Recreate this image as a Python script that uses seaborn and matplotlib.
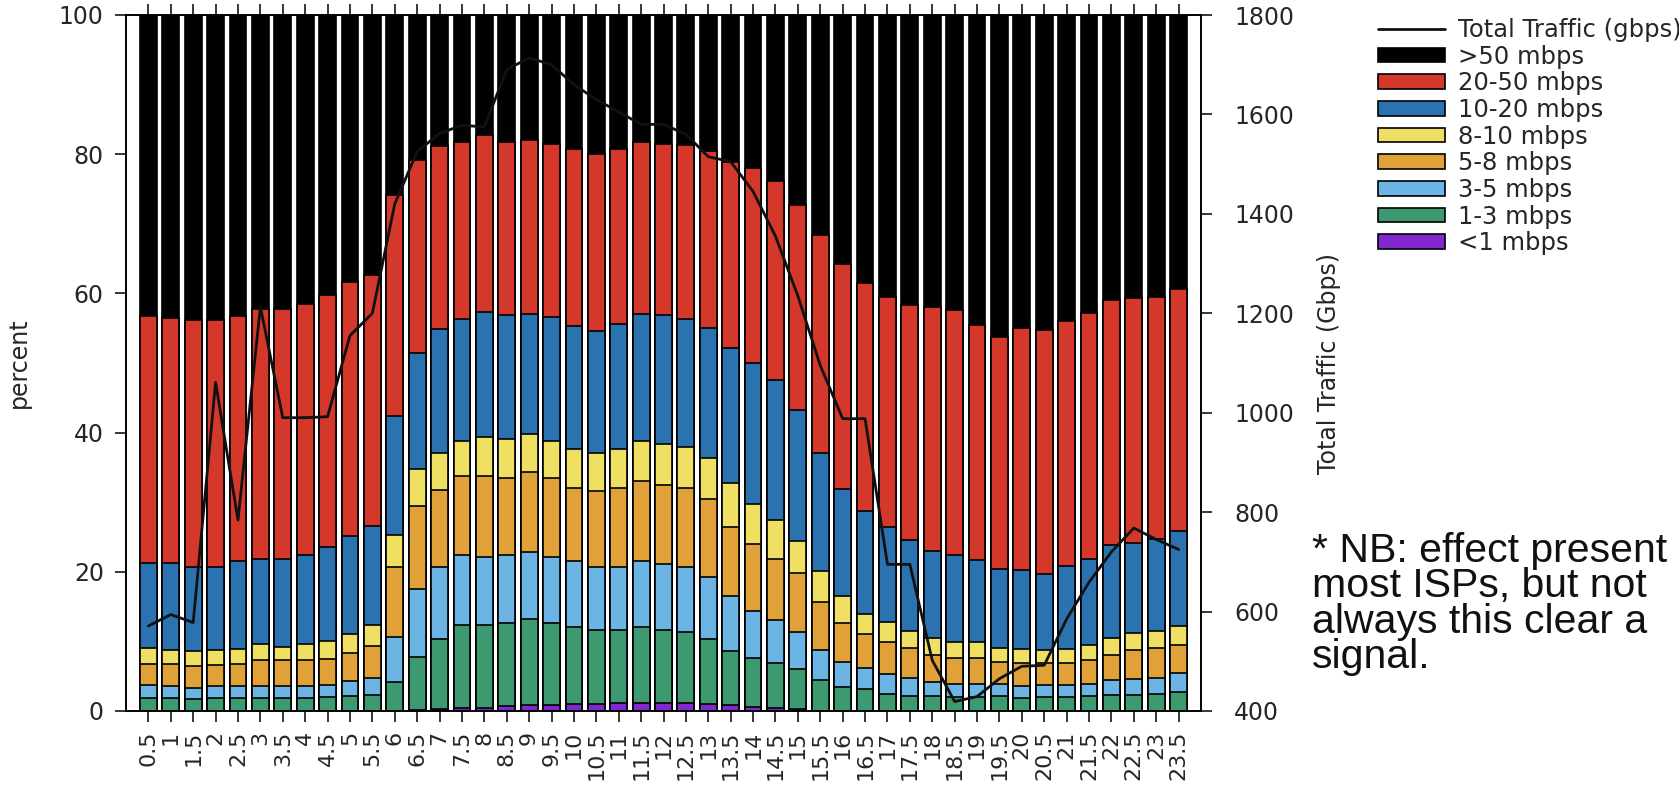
import numpy as np
import matplotlib
matplotlib.use("Agg")
import matplotlib.pyplot as plt
from matplotlib.patches import Patch
from matplotlib.lines import Line2D
import seaborn as sns

# Half-hour buckets of the day
hour_labels = ["0.5", "1", "1.5", "2", "2.5", "3", "3.5", "4", "4.5", "5", "5.5", "6",
               "6.5", "7", "7.5", "8", "8.5", "9", "9.5", "10", "10.5", "11", "11.5", "12",
               "12.5", "13", "13.5", "14", "14.5", "15", "15.5", "16", "16.5", "17", "17.5",
               "18", "18.5", "19", "19.5", "20", "20.5", "21", "21.5", "22", "22.5", "23", "23.5"]

# Cumulative share of streams (percent) at or below each speed threshold
share_all = [100] * 47
share_below_50 = [56.8, 56.4, 56.2, 56.2, 56.8, 57.8, 57.8, 58.5, 59.7, 61.6, 62.6, 74.1,
                  79.2, 81.2, 81.7, 82.8, 81.7, 82.0, 81.5, 80.7, 80.0, 80.7, 81.7, 81.5,
                  81.3, 80.5, 78.9, 78.0, 76.2, 72.7, 68.4, 64.2, 61.5, 59.5, 58.4,
                  58.0, 57.6, 55.4, 53.8, 55.1, 54.7, 56.1, 57.2, 59.1, 59.3, 59.5, 60.7]
share_below_20 = [21.3, 21.3, 20.7, 20.7, 21.5, 21.9, 21.9, 22.4, 23.6, 25.1, 26.6, 42.4,
                  51.5, 54.9, 56.3, 57.3, 56.9, 57.1, 56.6, 55.3, 54.6, 55.6, 57.1, 56.9,
                  56.3, 55.1, 52.1, 50.0, 47.5, 43.2, 37.1, 31.9, 28.7, 26.5, 24.5,
                  23.0, 22.4, 21.7, 20.4, 20.2, 19.7, 20.9, 21.9, 23.9, 24.1, 24.7, 25.8]
share_below_10 = [9.0, 8.8, 8.6, 8.7, 8.9, 9.6, 9.2, 9.6, 10.0, 11.0, 12.4, 25.3,
                  34.7, 37.0, 38.8, 39.3, 39.1, 39.8, 38.8, 37.6, 37.1, 37.6, 38.8, 38.4,
                  38.0, 36.4, 32.7, 29.8, 27.5, 24.4, 20.1, 16.5, 14.0, 12.8, 11.5,
                  10.5, 9.9, 9.9, 9.0, 8.9, 8.8, 8.9, 9.5, 10.5, 11.2, 11.5, 12.2]
share_below_8 = [6.8, 6.7, 6.5, 6.6, 6.7, 7.3, 7.3, 7.3, 7.5, 8.4, 9.4, 20.7,
                 29.4, 31.8, 33.7, 33.7, 33.5, 34.3, 33.5, 32.1, 31.6, 32.1, 33.0, 32.5,
                 32.1, 30.5, 26.5, 24.0, 21.9, 19.8, 15.6, 12.7, 11.0, 9.9, 9.0,
                 8.0, 7.6, 7.6, 7.1, 6.9, 6.9, 6.9, 7.3, 8.1, 8.7, 9.0, 9.5]
share_below_5 = [3.8, 3.6, 3.3, 3.6, 3.6, 3.6, 3.6, 3.6, 3.8, 4.3, 4.8, 10.7,
                 17.6, 20.7, 22.4, 22.1, 22.4, 22.9, 22.1, 21.5, 20.7, 20.7, 21.5, 21.1,
                 20.7, 19.3, 16.5, 14.3, 13.1, 11.4, 8.7, 7.1, 6.2, 5.3, 4.7,
                 4.1, 3.9, 3.9, 3.9, 3.6, 3.8, 3.8, 3.9, 4.5, 4.6, 4.7, 5.4]
share_below_3 = [1.8, 1.8, 1.7, 1.8, 1.8, 1.8, 1.8, 1.8, 2.0, 2.1, 2.3, 4.2,
                 7.8, 10.4, 12.4, 12.4, 12.7, 13.2, 12.7, 12.1, 11.7, 11.7, 12.1, 11.7,
                 11.4, 10.4, 8.6, 7.6, 6.9, 6.1, 4.5, 3.5, 3.1, 2.4, 2.2,
                 2.1, 2.0, 2.0, 2.1, 1.8, 2.0, 2.0, 2.2, 2.3, 2.3, 2.5, 2.8]
share_below_1 = [0, 0, 0, 0, 0, 0, 0, 0, 0, 0, 0, 0,
                 0.1, 0.3, 0.5, 0.5, 0.7, 0.9, 0.9, 1.0, 1.0, 1.2, 1.2, 1.2,
                 1.2, 1.0, 0.8, 0.6, 0.5, 0.3, 0, 0, 0, 0, 0,
                 0, 0, 0, 0, 0, 0, 0, 0, 0, 0, 0, 0]

# Total traffic in Gbps for each bucket
total_traffic = [571, 594, 578, 1061, 784, 1213, 990, 990, 992, 1155, 1200, 1420,
                 1525, 1562, 1578, 1575, 1690, 1714, 1700, 1660, 1630, 1605, 1580, 1580,
                 1560, 1515, 1505, 1445, 1355, 1235, 1095, 988, 988, 695, 695,
                 502, 419, 429, 465, 490, 492, 585, 659, 720, 768, 745, 725]

band_names = [">50 mbps", "20-50 mbps", "10-20 mbps", "8-10 mbps",
              "5-8 mbps", "3-5 mbps", "1-3 mbps", "<1 mbps"]
band_colors = ["#000000", "#d4382a", "#2b72b0", "#efe063",
               "#e0a238", "#6bb4e4", "#3d9a70", "#8228d0"]
band_levels = [share_all, share_below_50, share_below_20, share_below_10,
               share_below_8, share_below_5, share_below_3, share_below_1]

TEXT = "#262626"
FS = 17
sns.set_style("ticks")
plt.rcParams.update({
    "font.family": ["DejaVu Sans"],
    "font.size": FS,
    "text.color": TEXT,
    "axes.labelcolor": TEXT,
    "xtick.color": "black",
    "ytick.color": "black",
    "xtick.labelcolor": TEXT,
    "ytick.labelcolor": TEXT,
    "axes.edgecolor": "black",
    "axes.linewidth": 1.2,
})

W, H = 1679, 785
fig = plt.figure(figsize=(W / 100, H / 100), dpi=100)
ax = fig.add_axes([126 / W, 1 - 711 / H, (1201 - 126) / W, (711 - 15) / H])

# Stack by overdrawing cumulative levels from the tallest down
for name, color, level in zip(band_names, band_colors, band_levels):
    sns.barplot(x=hour_labels, y=level, color=color, saturation=1, width=0.75,
                edgecolor="black", linewidth=1.2, errorbar=None, ax=ax)

ax2 = ax.twinx()
sns.lineplot(x=np.arange(len(hour_labels)), y=total_traffic, ax=ax2,
             color="#111111", linewidth=2.0)

ax.set_xlim(-1, len(hour_labels))
ax.set_ylim(0, 100)
ax2.set_ylim(400, 1800)
ax.set_yticks([0, 20, 40, 60, 80, 100])
ax2.set_yticks([400, 600, 800, 1000, 1200, 1400, 1600, 1800])

ax.set_xlabel("")
ax.set_ylabel("percent", fontsize=FS, labelpad=20)
ax2.set_ylabel("Total Traffic (Gbps)", fontsize=FS, labelpad=16)

ax.tick_params(axis="x", top=True, bottom=True, direction="out", length=8,
               width=1.1, labelrotation=90, pad=6, labelsize=16)
ax.tick_params(axis="y", direction="out", length=8, width=1.1, pad=8, labelsize=FS)
ax2.tick_params(axis="y", direction="out", length=8, width=1.1, pad=16, labelsize=FS)
for a in (ax, ax2):
    for sp in a.spines.values():
        sp.set_visible(True)
        sp.set_linewidth(1.2)
        sp.set_color("black")

handles = [Line2D([0], [0], color="#111111", linewidth=2.0, label="Total Traffic (gbps)")]
handles += [Patch(facecolor=c, edgecolor="black", linewidth=1.2, label=n)
            for n, c in zip(band_names, band_colors)]
fig.legend(handles=handles, loc="upper left", bbox_to_anchor=(1378 / W, 1 - 18 / H),
           frameon=False, fontsize=17.5, handlelength=2.75, handleheight=0.55,
           labelspacing=0.11, handletextpad=0.55, borderpad=0, borderaxespad=0)

fig.text(1312 / W, 1 - 532 / H,
         "* NB: effect present\nmost ISPs, but not\nalways this clear a\nsignal.",
         family=["Liberation Sans", "DejaVu Sans"], fontsize=29.5, color="#111111",
         ha="left", va="top", linespacing=0.91)

fig.savefig("out.png", dpi=100)
